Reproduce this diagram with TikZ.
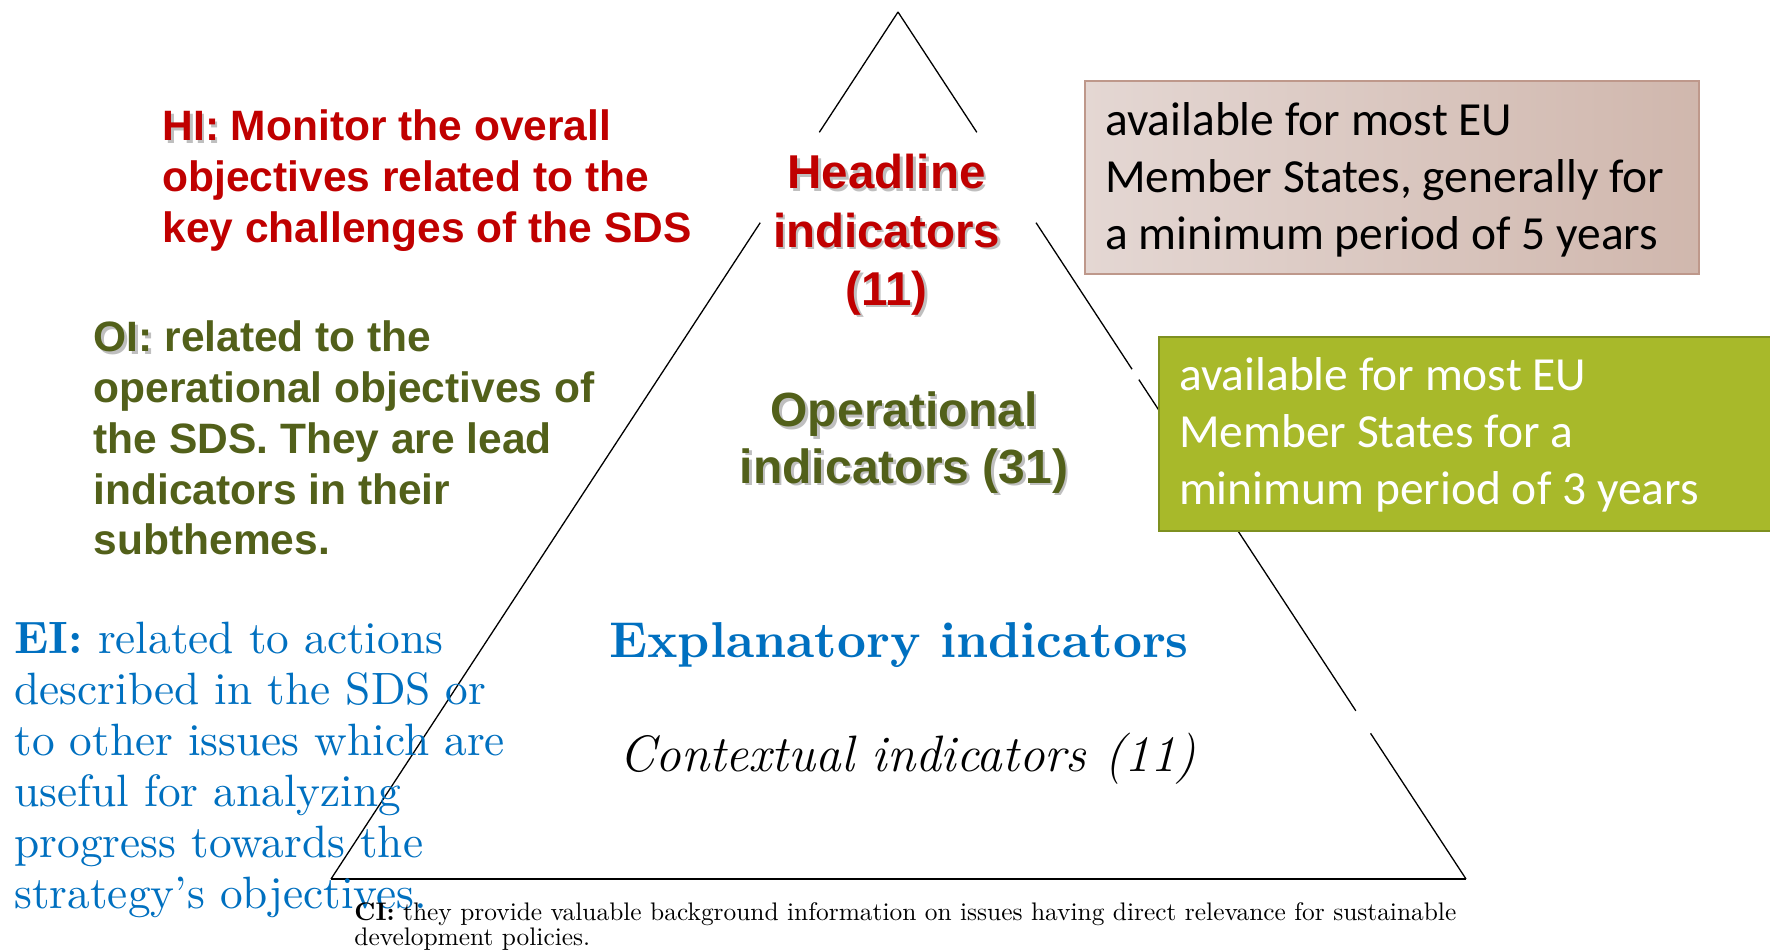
\documentclass[tikz,border=0pt]{standalone}
\usepackage{fontspec}
\usetikzlibrary{calc}
\newfontfamily\arialfont{Liberation Sans}
\newfontfamily\calibrifont{Carlito}
% text-size cut of the serif, wider than the display cut
\newfontfamily\wideserif{lmroman10-regular.otf}[BoldFont=lmroman10-bold.otf]
\definecolor{hired}{RGB}{192,0,0}
\definecolor{oigreen}{RGB}{82,96,26}
\definecolor{eiblue}{RGB}{0,112,192}
\definecolor{boxgreen}{RGB}{168,185,42}
\definecolor{boxgreenline}{RGB}{126,144,32}
\definecolor{pinkA}{RGB}{228,215,211}
\definecolor{pinkB}{RGB}{208,183,173}
\definecolor{pinkline}{RGB}{190,152,139}
% soft drop shadow behind a piece of text
\newcommand\txtshadow[1]{\makebox[0pt][l]{\kern2.5pt\raisebox{-2.5pt}{\textcolor{black!25}{#1}}}#1}
\begin{document}
\begin{tikzpicture}[x=1pt,y=-1pt,
  side/.style={line width=1.3pt},
  baseline edge/.style={line width=2pt},
  txt/.style={inner sep=0pt,outer sep=0pt},
  arialtxt/.style={txt,font=\arialfont\bfseries\fontsize{42.5}{51}\selectfont,align=left,anchor=base west},
  seriftxt/.style={txt,font=\wideserif\fontsize{45.3}{51}\selectfont,align=left,anchor=base west},
  boxtxt/.style={txt,font=\calibrifont\fontsize{47.5}{57}\selectfont,align=left,anchor=base west}]
\useasboundingbox[fill=white] (0,0) rectangle (1770,952);

% pyramid outline, interrupted where labels sit
\coordinate (A) at (898,12);
\coordinate (L) at (331,879);
\coordinate (R) at (1466,879);
\draw[side] (A) -- ($(A)!0.1388!(L)$) ($(A)!0.243!(L)$) -- (L);
\draw[side] (A) -- ($(A)!0.1388!(R)$) ($(A)!0.243!(R)$) -- ($(A)!0.412!(R)$)
  ($(A)!0.424!(R)$) -- ($(A)!0.806!(R)$) ($(A)!0.832!(R)$) -- (R);
\draw[baseline edge] (L) -- (R);

% availability boxes (multi-line nodes are placed by their last baseline)
\node[txt,anchor=north west,draw=pinkline,line width=1.5pt,left color=pinkA,right color=pinkB,
  minimum width=614pt,minimum height=193pt] (pinkbox) at (1085,81) {};
\node[boxtxt] (pinktext) at (1105,249.5)
  {available for most EU\\Member States, generally for\\a minimum period of 5 years};
\node[txt,anchor=north west,draw=boxgreenline,fill=boxgreen,line width=1.5pt,
  minimum width=630pt,minimum height=194pt] (greenbox) at (1159,337) {};
\node[boxtxt,text=white] (greentext) at (1179,504.5)
  {available for most EU\\Member States for a\\minimum period of 3 years};

% levels of the pyramid
\node[txt,anchor=base,align=center,text=hired,
  font=\arialfont\bfseries\fontsize{47.5}{58}\selectfont] (headline) at (886.5,305)
  {\txtshadow{Headline}\\\txtshadow{indicators}\\\txtshadow{(11)}};
\node[txt,anchor=base,align=center,text=oigreen,
  font=\arialfont\bfseries\fontsize{48}{56.6}\selectfont] (operational) at (904,483.3)
  {\txtshadow{Operational}\\\txtshadow{indicators (31)}};
\node[txt,anchor=base,text=eiblue,font=\wideserif\bfseries\fontsize{50.4}{56}\selectfont]
  (explanatory) at (899,657) {Explanatory indicators};
\node[txt,anchor=base,font=\itshape\fontsize{51.2}{56}\selectfont]
  (contextual) at (908,771.5) {Contextual indicators (11)};

% descriptions
\node[arialtxt,text=hired] (hi) at (162.5,242.7)
  {\txtshadow{HI:} Monitor the overall\\objectives related to the\\key challenges of the SDS};
\node[arialtxt,text=oigreen,font=\arialfont\bfseries\fontsize{42.5}{50.8}\selectfont] (oi) at (93.7,554.9)
  {\txtshadow{OI:} related to the\\operational objectives of\\the SDS. They are lead\\indicators in their\\subthemes.};
\node[seriftxt,text=eiblue] (ei) at (14.5,908.5)
  {\textbf{EI:} related to actions\\described in the SDS or\\to other issues which are\\useful for analyzing\\progress towards the\\strategy’s objectives.};
\node[seriftxt,font=\wideserif\fontsize{25.4}{25}\selectfont] (ci) at (354.4,945)
  {\textbf{CI:} they provide valuable background information on issues having direct relevance for sustainable\\development policies.};
\end{tikzpicture}
\end{document}
